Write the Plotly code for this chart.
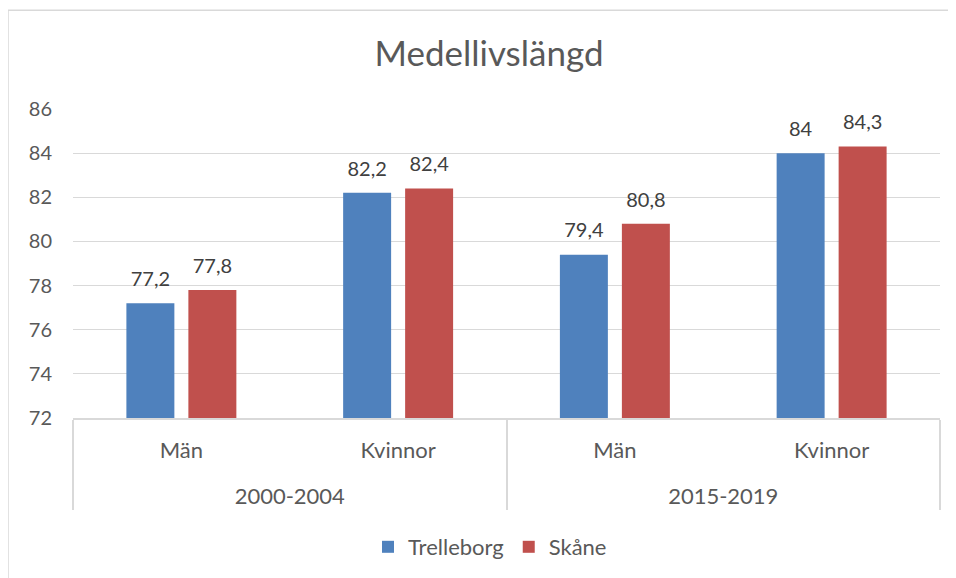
import plotly.graph_objects as go

# ---- data ----
periods = ["2000-2004", "2000-2004", "2015-2019", "2015-2019"]
genders = ["Män", "Kvinnor", "Män", "Kvinnor"]
trelleborg = [77.2, 82.2, 79.4, 84.0]
skane = [77.8, 82.4, 80.8, 84.3]
series_names = ["Trelleborg", "Skåne"]
y_ticks = [72, 74, 76, 78, 80, 82, 84, 86]
title_text = "Medellivslängd"

colors = ["#4F81BD", "#C0504D"]
FONT = "Lato, 'Open Sans', sans-serif"
TXT = "#595959"
GRID = "#D9D9D9"

# page body has an 8px margin -> figure is drawn offset by 8px
OFF = 8
W, H = 956 - OFF, 578 - OFF
PL, PR, PT, PB = 73 - OFF, 940 - OFF, 109 - OFF, 418.5 - OFF


def fmt(v):
    return f"{v:g}".replace(".", ",")


# second-level labels get an extra line above them for spacing
x_levels = [["<br>" + p for p in periods], genders]

fig = go.Figure()
for name, vals, col in zip(series_names, [trelleborg, skane], colors):
    fig.add_trace(go.Bar(
        x=x_levels, y=vals, name=name,
        marker=dict(color=col, line=dict(width=0)),
        offsetgroup=name, hoverinfo="skip",
    ))
for name, vals in zip(series_names, [trelleborg, skane]):
    fig.add_trace(go.Scatter(
        x=x_levels, y=vals, mode="markers+text",
        text=[fmt(v) for v in vals], textposition="top center",
        textfont=dict(family=FONT, size=20, color="#404040"),
        marker=dict(size=18, opacity=0), offsetgroup=name,
        showlegend=False, hoverinfo="skip", cliponaxis=False,
    ))

fig.update_layout(
    width=W, height=H,
    margin=dict(l=PL, r=W - PR, t=PT, b=H - PB),
    paper_bgcolor="white", plot_bgcolor="white",
    barmode="group", bargap=0.428, bargroupgap=0.226,
    scattermode="group", scattergap=0.428,
    font=dict(family=FONT, size=22, color=TXT),
    title=dict(text=title_text, x=(489 - OFF) / W, xref="container", xanchor="center",
               y=1 - (54 - OFF) / H, yref="container", yanchor="middle",
               font=dict(family=FONT, size=35, color=TXT)),
    legend=dict(orientation="h", xref="container", x=(490 - OFF) / W, xanchor="center",
                yref="container", y=1 - (547 - OFF) / H, yanchor="middle",
                font=dict(family=FONT, size=22, color=TXT), itemwidth=30),
    xaxis=dict(type="multicategory", showline=True, linecolor=GRID, linewidth=1.5,
               showdividers=True, dividercolor=GRID, dividerwidth=1.5,
               ticklabelstandoff=12,
               tickfont=dict(family=FONT, size=22, color=TXT), showgrid=False),
    yaxis=dict(range=[72, 86], tickvals=y_ticks, showgrid=True, gridcolor=GRID,
               gridwidth=1.3, zeroline=False, showline=False,
               tickfont=dict(family=FONT, size=20, color=TXT), ticklabelstandoff=20),
)

fig.add_shape(type="rect", xref="paper", yref="paper",
              x0=(0 - PL) / (PR - PL), x1=(970 - PL) / (PR - PL),
              y0=(PB - 600) / (PB - PT), y1=(PB - 2) / (PB - PT),
              line=dict(color=GRID, width=1.5), fillcolor="rgba(0,0,0,0)", layer="below")

fig.write_html("out.html")
